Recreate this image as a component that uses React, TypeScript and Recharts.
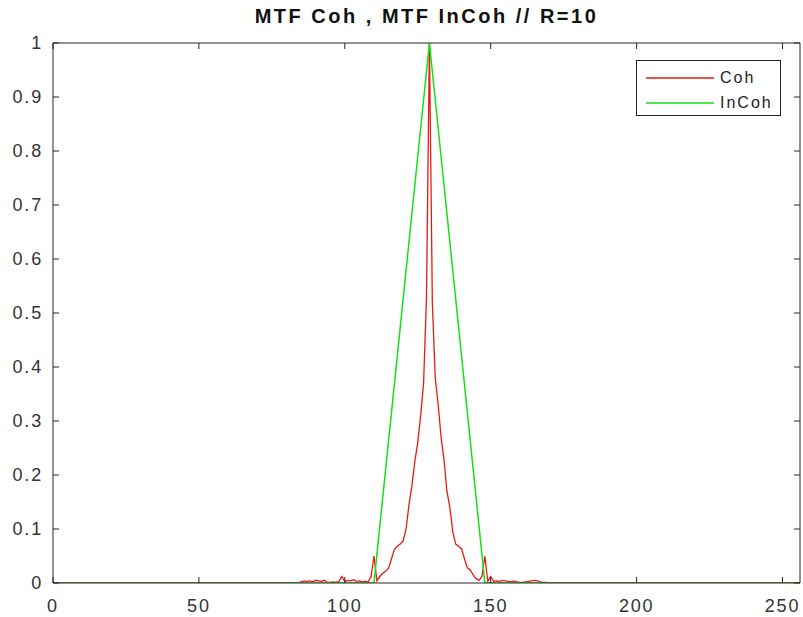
import React from 'react';
import { LineChart, Line, XAxis, YAxis, Legend } from 'recharts';

// ---- data ----
const xTicks = [0, 50, 100, 150, 200, 250];
const yTicks = [0, 0.1, 0.2, 0.3, 0.4, 0.5, 0.6, 0.7, 0.8, 0.9, 1];
const yTickLabels = ['0', '0.1', '0.2', '0.3', '0.4', '0.5', '0.6', '0.7', '0.8', '0.9', '1'];

// Coherent MTF: samples at consecutive integer x starting at cohStart
const cohStart = 84;
const cohValues = [
  0, 0.002, 0.004, 0.003, 0.004, 0.002, 0.005, 0.004, 0.003, 0.005, // 84-93
  0.001, 0.001, 0.002, 0.001, 0.003, 0.012, 0.003, 0.005, 0.004, 0.006, // 94-103
  0.003, 0.004, 0.002, 0.003, 0.002, 0.012, 0.05, 0.004, 0.012, 0.018, // 104-113
  0.022, 0.027, 0.045, 0.062, 0.068, 0.072, 0.078, 0.1, 0.145, 0.18, // 114-123
  0.225, 0.26, 0.31, 0.37, 0.53, 1.0, 0.52, 0.38, 0.33, 0.27, // 124-133
  0.228, 0.17, 0.14, 0.095, 0.072, 0.068, 0.063, 0.045, 0.028, 0.024, // 134-143
  0.015, 0.008, 0.005, 0.012, 0.05, 0.003, 0.012, 0.003, 0.004, 0.003, // 144-153
  0.005, 0.004, 0.003, 0.002, 0.004, 0.002, 0.001, 0.001, 0.002, 0.003, // 154-163
  0.004, 0.005, 0.004, 0.002, 0.001, 0.001, 0, // 164-170
];
const cohEdgeX = [0, 256];

// Incoherent MTF: triangle corners
const incohX = [0, 110, 129, 148, 256];
const incohY = [0, 0, 1, 0, 0];

const cohData = [
  { x: cohEdgeX[0], y: 0 },
  ...cohValues.map((v, i) => ({ x: cohStart + i, y: v })),
  { x: cohEdgeX[1], y: 0 },
];
const incohData = incohX.map((x, i) => ({ x, y: incohY[i] }));

const RED = '#e81a14';
const GREEN = '#14e014';
const AX = '#262626';
const FONT = '"Liberation Sans", Arial, Helvetica, sans-serif';

const tickStyle = { fontSize: 18, fill: '#333', fontFamily: FONT, letterSpacing: 1.8 };

const LegendBox = () => (
  <div
    style={{
      width: 145,
      height: 56,
      boxSizing: 'border-box',
      border: `1px solid ${AX}`,
      background: '#fff',
      fontFamily: FONT,
      fontSize: 16,
      letterSpacing: 2,
      color: '#222',
      position: 'relative',
    }}
  >
    {[
      { name: 'Coh', color: RED, top: 17 },
      { name: 'InCoh', color: GREEN, top: 42 },
    ].map((it) => (
      <div key={it.name} style={{ position: 'absolute', left: 8, top: it.top - 10, height: 20, display: 'flex', alignItems: 'center' }}>
        <svg width={70} height={20} style={{ display: 'block' }}>
          <line x1={1} y1={10} x2={69} y2={10} stroke={it.color} strokeWidth={1.5} />
        </svg>
        <span style={{ marginLeft: 5, lineHeight: '20px' }}>{it.name}</span>
      </div>
    ))}
  </div>
);

export default function App() {
  return (
    <div style={{ position: 'absolute', left: 0, top: 0, width: 803, height: 617, background: '#fff' }}>
      <div
        style={{
          position: 'absolute',
          left: 53,
          width: 747,
          top: 5,
          textAlign: 'center',
          fontFamily: FONT,
          fontWeight: 'bold',
          fontSize: 20,
          letterSpacing: 2.5,
          color: '#111',
        }}
      >
        MTF Coh , MTF InCoh // R=10
      </div>
      <LineChart width={803} height={617} margin={{ top: 42, right: 2, bottom: 0, left: 0 }}>
        <XAxis
          xAxisId="b"
          dataKey="x"
          type="number"
          domain={[0, 256]}
          ticks={xTicks}
          interval={0}
          height={34}
          tickSize={-6}
          tickMargin={22}
          stroke={AX}
          tick={tickStyle}
          allowDataOverflow
        />
        <XAxis
          xAxisId="t"
          orientation="top"
          dataKey="x"
          type="number"
          domain={[0, 256]}
          ticks={xTicks}
          interval={0}
          height={1}
          tickSize={-6}
          stroke={AX}
          tick={{ fontSize: 1, fill: 'none' }}
          tickFormatter={() => ' '}
          allowDataOverflow
        />
        <YAxis
          yAxisId="l"
          type="number"
          domain={[0, 1]}
          ticks={yTicks}
          interval={0}
          width={53}
          tickSize={-6}
          tickMargin={16}
          stroke={AX}
          tick={tickStyle}
          tickFormatter={(v: number) => yTickLabels[yTicks.indexOf(v)] ?? String(v)}
          allowDataOverflow
        />
        <YAxis
          yAxisId="r"
          orientation="right"
          type="number"
          domain={[0, 1]}
          ticks={yTicks}
          interval={0}
          width={1}
          tickSize={-6}
          stroke={AX}
          tick={{ fontSize: 1, fill: 'none' }}
          tickFormatter={() => ' '}
          allowDataOverflow
        />
        <Line
          xAxisId="b"
          yAxisId="l"
          data={cohData}
          dataKey="y"
          name="Coh"
          type="linear"
          stroke={RED}
          strokeWidth={1.3}
          dot={false}
          activeDot={false}
          isAnimationActive={false}
        />
        <Line
          xAxisId="b"
          yAxisId="l"
          data={incohData}
          dataKey="y"
          name="InCoh"
          type="linear"
          stroke={GREEN}
          strokeWidth={1.5}
          dot={false}
          activeDot={false}
          isAnimationActive={false}
        />
        <Legend
          layout="vertical"
          align="center"
          verticalAlign="middle"
          content={() => <LegendBox />}
          wrapperStyle={{ position: 'absolute', left: 636, top: 60, width: 145, height: 56, bottom: 'auto', right: 'auto' }}
        />
      </LineChart>
    </div>
  );
}
